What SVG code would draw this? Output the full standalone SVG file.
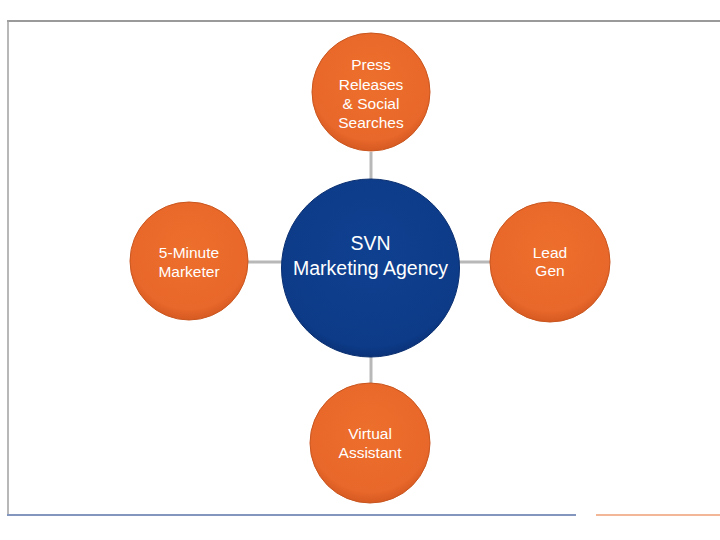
<svg xmlns="http://www.w3.org/2000/svg" width="720" height="540" viewBox="0 0 720 540">
<defs>
<radialGradient id="og" cx="50%" cy="40%" r="60%">
<stop offset="0" stop-color="#ED6F2C"/>
<stop offset="0.85" stop-color="#E8672A"/>
<stop offset="1" stop-color="#D65A22"/>
</radialGradient>
<radialGradient id="bg" cx="50%" cy="40%" r="60%">
<stop offset="0" stop-color="#0F4090"/>
<stop offset="0.9" stop-color="#0D3B88"/>
<stop offset="1" stop-color="#0A3278"/>
</radialGradient>
</defs>
<style>
.o{fill:url(#og);stroke:#C9561F;stroke-width:1}
.b{fill:url(#bg);stroke:#0A2F70;stroke-width:1}
.t{font-family:"Liberation Sans",Arial,sans-serif;fill:#ffffff;text-anchor:middle;font-size:15.5px}
.tc{font-family:"Liberation Sans",Arial,sans-serif;fill:#ffffff;text-anchor:middle;font-size:19.5px}
.c{stroke:#B8B8B8;stroke-width:3;fill:none}
</style>
<rect width="720" height="540" fill="#ffffff"/>
<g id="frame">
<line x1="7" y1="21" x2="720" y2="21" stroke="#9A9A9A" stroke-width="2"/>
<line x1="8" y1="20" x2="8" y2="515" stroke="#A0A0A0" stroke-width="1.5"/>
<line x1="7" y1="515" x2="576" y2="515" stroke="#8396BE" stroke-width="2"/>
<line x1="596" y1="515" x2="720" y2="515" stroke="#F2B796" stroke-width="2"/>
</g>
<g id="connectors">
<line class="c" x1="371" y1="152" x2="371" y2="383"/>
<line class="c" x1="248" y1="262" x2="490" y2="262"/>
</g>
<g id="node-top">
<circle class="o" cx="371" cy="92" r="59"/>
<text class="t" x="371" y="70">Press</text>
<text class="t" x="371" y="89.5">Releases</text>
<text class="t" x="371" y="108.5">&amp; Social</text>
<text class="t" x="371" y="127.5">Searches</text>
</g>
<g id="node-left">
<circle class="o" cx="189" cy="261" r="59"/>
<text class="t" x="189" y="258">5-Minute</text>
<text class="t" x="189" y="277">Marketer</text>
</g>
<g id="node-right">
<circle class="o" cx="550" cy="262" r="60"/>
<text class="t" x="550" y="258">Lead</text>
<text class="t" x="550" y="276">Gen</text>
</g>
<g id="node-bottom">
<circle class="o" cx="370" cy="443" r="60"/>
<text class="t" x="370" y="439">Virtual</text>
<text class="t" x="370" y="458">Assistant</text>
</g>
<g id="node-center">
<circle class="b" cx="370.5" cy="268" r="89"/>
<text class="tc" x="370.5" y="250">SVN</text>
<text class="tc" x="370.5" y="274.5">Marketing Agency</text>
</g>
</svg>
